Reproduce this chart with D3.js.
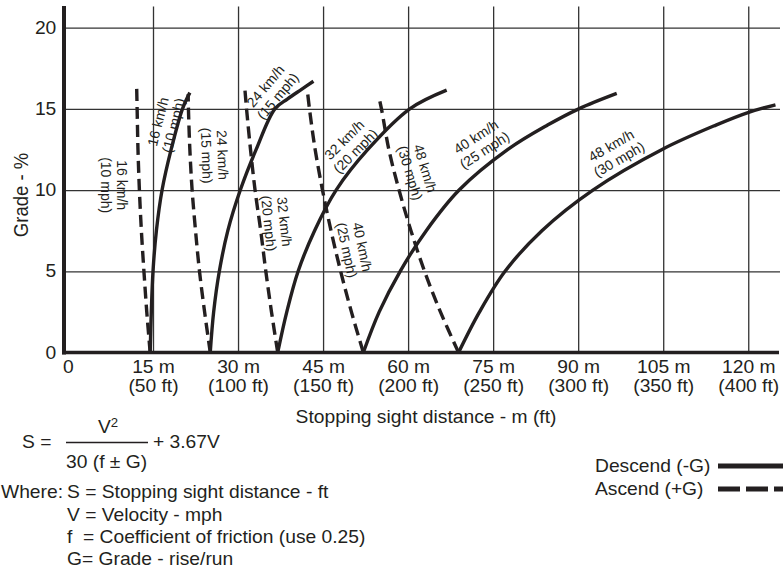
<!DOCTYPE html>
<html>
<head>
<meta charset="utf-8">
<script src="https://cdnjs.cloudflare.com/ajax/libs/d3/7.8.5/d3.min.js"></script>
<style>
body { margin: 0; background: #fff; }
svg text { font-family: "Liberation Sans", Arial, Helvetica, sans-serif; fill: #231f20; }
</style>
</head>
<body>
<svg width="783" height="571"></svg>
<script>
// x = stopping sight distance (m), y = grade (%)
var tickMeters = [15, 30, 45, 60, 75, 90, 105, 120];
var tickFeet = [50, 100, 150, 200, 250, 300, 350, 400];
var gradeTicks = [0, 5, 10, 15, 20];

var speedKmh = [16, 24, 32, 40, 48];
var speedMph = [10, 15, 20, 25, 30];

// descend (-G), solid lines
var descend10 = [[14.5,0],[14.7,2.5],[15.0,5],[15.6,7.5],[16.6,10],[18.2,12.5],[20.2,15],[21.5,16.0]];
var descend15 = [[25.1,0],[25.7,2.5],[26.7,5],[28.2,7.5],[30.4,10],[33.2,12.5],[36.5,15],[38.7,15.6],[41.2,16.2],[43.3,16.7]];
var descend20 = [[37.0,0],[38.6,2.5],[40.6,5],[43.5,7.5],[47.3,10],[52.9,12.5],[60.3,15],[66.8,16.15]];
var descend25 = [[52.1,0],[54.9,2.5],[58.6,5],[63.2,7.5],[69.0,10],[77.6,12.5],[84.6,14],[90.1,15],[96.8,15.95]];
var descend30 = [[68.9,0],[72.6,2.5],[77.1,5],[83.6,7.5],[92.6,10],[104.8,12.5],[114.3,14],[120.2,14.8],[124.8,15.25]];

// ascend (+G), dashed lines
var ascend10 = [[14.5,0],[13.9,2.5],[13.4,5],[12.95,7.5],[12.6,10],[12.35,12.5],[12.2,15],[12.1,16.6]];
var ascend15 = [[25.1,0],[24.1,2.5],[23.2,5],[22.5,7.5],[21.9,10],[21.5,12.5],[21.25,15],[21.2,15.9]];
var ascend20 = [[37.0,0],[35.9,2.5],[34.9,5],[34.0,7.5],[33.0,10],[32.2,12.5],[31.5,15],[31.2,16.25]];
var ascend25 = [[52.1,0],[50.0,2.5],[48.1,5],[46.4,7.5],[44.9,10],[43.6,12.5],[42.6,15],[42.2,16.2]];
var ascend30 = [[68.9,0],[65.7,2.5],[62.9,5],[60.5,7.5],[58.4,10],[56.6,12.5],[55.3,15],[54.8,15.8]];

var descendCurves = [descend10, descend15, descend20, descend25, descend30];
var ascendCurves = [ascend10, ascend15, ascend20, ascend25, ascend30];

var svg = d3.select("svg");
var ink = "#231f20";
var stretch = "scale(1.1,1)";

var x = d3.scaleLinear().domain([-0.7, 125.6]).range([64, 780]);
var y = d3.scaleLinear().domain([0, 21.3]).range([352.5, 6.5]);

// grid
var gx = svg.append("g")
    .attr("transform", "translate(0," + y(0) + ")")
    .call(d3.axisBottom(x).tickValues(tickMeters).tickSize(-(y(0) - y(21.3))).tickFormat(""));
gx.select(".domain").remove();
gx.selectAll("line").attr("stroke", "#333").attr("stroke-width", 1.3);

var gy = svg.append("g")
    .attr("transform", "translate(64,0)")
    .call(d3.axisLeft(y).tickValues(gradeTicks.slice(1)).tickSize(-(780 - 64)).tickFormat(""));
gy.select(".domain").remove();
gy.selectAll("line").attr("stroke", "#333").attr("stroke-width", 1.3);

// curves
var line = d3.line()
    .x(function (d) { return x(d[0]); })
    .y(function (d) { return y(d[1]); })
    .curve(d3.curveCatmullRom.alpha(0.5));

svg.append("g").selectAll("path")
    .data(descendCurves)
    .enter().append("path")
    .attr("d", line)
    .attr("fill", "none")
    .attr("stroke", ink)
    .attr("stroke-width", 3.4);

svg.append("g").selectAll("path")
    .data(ascendCurves)
    .enter().append("path")
    .attr("d", line)
    .attr("fill", "none")
    .attr("stroke", ink)
    .attr("stroke-width", 3.4)
    .attr("stroke-dasharray", "12,6");

// axes lines
svg.append("line").attr("x1", 64).attr("x2", 64).attr("y1", 6).attr("y2", y(0) + 2)
    .attr("stroke", ink).attr("stroke-width", 4);
svg.append("line").attr("x1", 62).attr("x2", 779).attr("y1", y(0)).attr("y2", y(0))
    .attr("stroke", ink).attr("stroke-width", 3.6);

// tick labels
var xa = svg.append("g")
    .attr("transform", "translate(0," + y(0) + ")")
    .call(d3.axisBottom(x).tickValues([0].concat(tickMeters)).tickSize(0));
xa.select(".domain").remove();
xa.selectAll(".tick text").each(function (d, i) {
    var t = d3.select(this).text(null)
        .attr("y", 0).attr("dy", null)
        .attr("font-size", 17.5)
        .attr("transform", stretch);
    t.append("tspan").attr("x", 0).attr("y", 20.8).text(d === 0 ? "0" : d + " m");
    if (d !== 0) t.append("tspan").attr("x", 0).attr("y", 40).text("(" + tickFeet[i - 1] + " ft)");
});

var ya = svg.append("g")
    .attr("transform", "translate(64,0)")
    .call(d3.axisLeft(y).tickValues(gradeTicks).tickSize(0).tickPadding(7));
ya.select(".domain").remove();
ya.selectAll(".tick text").attr("font-size", 17.5).attr("transform", stretch);

// axis titles
svg.append("text")
    .attr("transform", "translate(426,423) " + stretch)
    .attr("text-anchor", "middle")
    .attr("font-size", 17.5)
    .text("Stopping sight distance - m (ft)");

svg.append("text")
    .attr("transform", "translate(28,195) " + stretch + " rotate(-90)")
    .attr("text-anchor", "middle")
    .attr("font-size", 18.5)
    .text("Grade - %");

// curve labels: [distance, grade, angle]
var solidSpots = [[17.2,14.1,-76],[35.9,16.1,-50],[49.7,12.76,-45],[72.7,12.88,-33],[96.5,12.33,-30]];
var dashSpots = [[8.1,10.3,90],[25.9,12.14,88],[36.85,8.0,84],[50.6,6.4,78],[61.7,11.2,73]];

function curveLabel(spot, i) {
    var t = svg.append("text")
        .attr("transform", "translate(" + x(spot[0]) + "," + y(spot[1]) + ") rotate(" + spot[2] + ")")
        .attr("text-anchor", "middle")
        .attr("font-size", 14);
    t.append("tspan").attr("x", 0).attr("y", -2.8).text(speedKmh[i] + " km/h");
    t.append("tspan").attr("x", 0).attr("y", 13).text("(" + speedMph[i] + " mph)");
}
solidSpots.forEach(curveLabel);
dashSpots.forEach(curveLabel);

// formula block
function txt(px, py, s, anchor) {
    return svg.append("text")
        .attr("transform", "translate(" + px + "," + py + ") " + stretch)
        .attr("text-anchor", anchor || "start")
        .attr("font-size", 17.5)
        .text(s);
}
txt(22, 448, "S =");
var v2 = txt(108, 433, "V", "middle");
v2.append("tspan").attr("font-size", 12).attr("dy", -6).text("2");
svg.append("line").attr("x1", 66).attr("x2", 148).attr("y1", 442.5).attr("y2", 442.5)
    .attr("stroke", ink).attr("stroke-width", 1.3);
txt(66, 467.5, "30 (f \u00b1 G)");
txt(153, 448, "+ 3.67V");
txt(63, 498, "Where:", "end");
txt(67, 498, "S = Stopping sight distance - ft");
txt(67, 520.5, "V = Velocity - mph");
txt(67, 543, "f \u00a0= Coefficient of friction (use 0.25)");
txt(67, 565, "G= Grade - rise/run");

// legend
txt(595, 472, "Descend (-G)");
txt(595, 495, "Ascend (+G)");
svg.append("line").attr("x1", 718).attr("x2", 783).attr("y1", 466).attr("y2", 466)
    .attr("stroke", ink).attr("stroke-width", 5);
svg.append("line").attr("x1", 718).attr("x2", 783).attr("y1", 489).attr("y2", 489)
    .attr("stroke", ink).attr("stroke-width", 5).attr("stroke-dasharray", "22,6");
</script>
</body>
</html>
